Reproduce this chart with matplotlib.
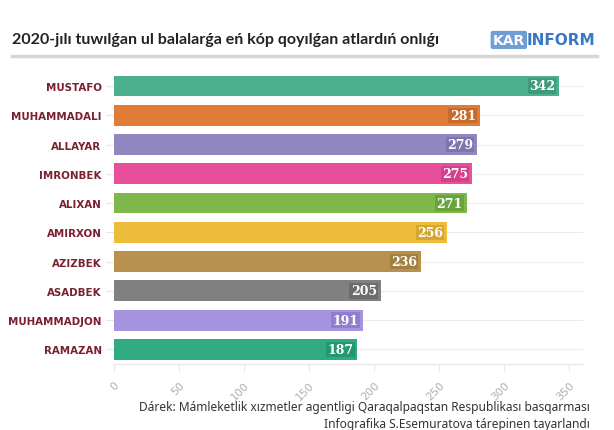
import matplotlib.pyplot as plt

names = ["MUSTAFO", "MUHAMMADALI", "ALLAYAR", "IMRONBEK", "ALIXAN",
         "AMIRXON", "AZIZBEK", "ASADBEK", "MUHAMMADJON", "RAMAZAN"]
counts = [342, 281, 279, 275, 271, 256, 236, 205, 191, 187]
colors = ["#4caf8e", "#e07c38", "#8f88c0", "#e9509b", "#7eb84b",
          "#ecbc3a", "#b8914e", "#808080", "#a593e0", "#2fab7f"]
dark = ["#3f9a7c", "#c86a2c", "#7c75ae", "#d2418a", "#6aa33b",
        "#d6a72f", "#a37f40", "#6c6c6c", "#9080cc", "#23976d"]
ticks = [0, 50, 100, 150, 200, 250, 300, 350]

fig = plt.figure(figsize=(6.14, 4.31), dpi=100)
ax = fig.add_axes([0.1857, 0.1531, 0.764, 0.679])

y = list(range(len(names)))
ax.barh(y, counts, height=0.71, color=colors, zorder=2)
for i, v in enumerate(counts):
    ax.text(v - 3, i, str(v), ha="right", va="center", color="white",
            fontsize=9, fontweight="bold", family="DejaVu Serif", zorder=4,
            bbox=dict(boxstyle="square,pad=0.1", fc=dark[i], ec="none"))

ax.set_ylim(len(names) - 0.5, -0.5)
ax.set_xlim(0, 360.5)
ax.set_yticks(y)
ax.set_yticklabels(names, fontsize=7.4, fontweight="bold", color="#7a2030",
                   family="DejaVu Sans")
ax.set_xticks(ticks)
ax.set_xticklabels([str(t) for t in ticks], rotation=45, ha="right",
                   rotation_mode="anchor", fontsize=8, color="#b0b0b0")
ax.tick_params(axis="y", length=6, color="#e6e6e6", pad=3)
ax.tick_params(axis="x", length=5, color="#e6e6e6", pad=6)
for i in y:
    ax.axhline(i, color="#ececec", lw=0.8, zorder=0)
for s in ["top", "right", "left"]:
    ax.spines[s].set_visible(False)
ax.spines["bottom"].set_color("#e6e6e6")

fig.text(0.02, 0.907, "2020-jılı tuwılǵan ul balalarǵa eń kóp qoyılǵan atlardıń onlıǵı",
         fontsize=11.5, fontweight="bold", color="#222222",
         family=["Lato", "Noto Sans", "DejaVu Sans"], va="center")
fig.add_artist(plt.Line2D([0.02, 0.972], [0.867, 0.867], color="#d6d6d6", lw=2.5))

fig.text(0.855, 0.905, "KAR", fontsize=10, fontweight="bold", color="white",
         va="center", ha="right", family="DejaVu Sans",
         bbox=dict(boxstyle="round,pad=0.15", fc="#6f9ed6", ec="none"))
fig.text(0.857, 0.905, "INFORM", fontsize=11, fontweight="bold", color="#3a78c8",
         va="center", ha="left", family="DejaVu Sans")

fig.text(0.96, 0.055, "Dárek: Mámleketlik xızmetler agentligi Qaraqalpaqstan Respublikası basqarması",
         fontsize=8.6, color="#333333", ha="right", va="center", family="Noto Sans")
fig.text(0.96, 0.015, "Infografika S.Esemuratova tárepinen tayarlandı",
         fontsize=8.6, color="#333333", ha="right", va="center", family="Noto Sans")

plt.savefig("out.png")
plt.close()
